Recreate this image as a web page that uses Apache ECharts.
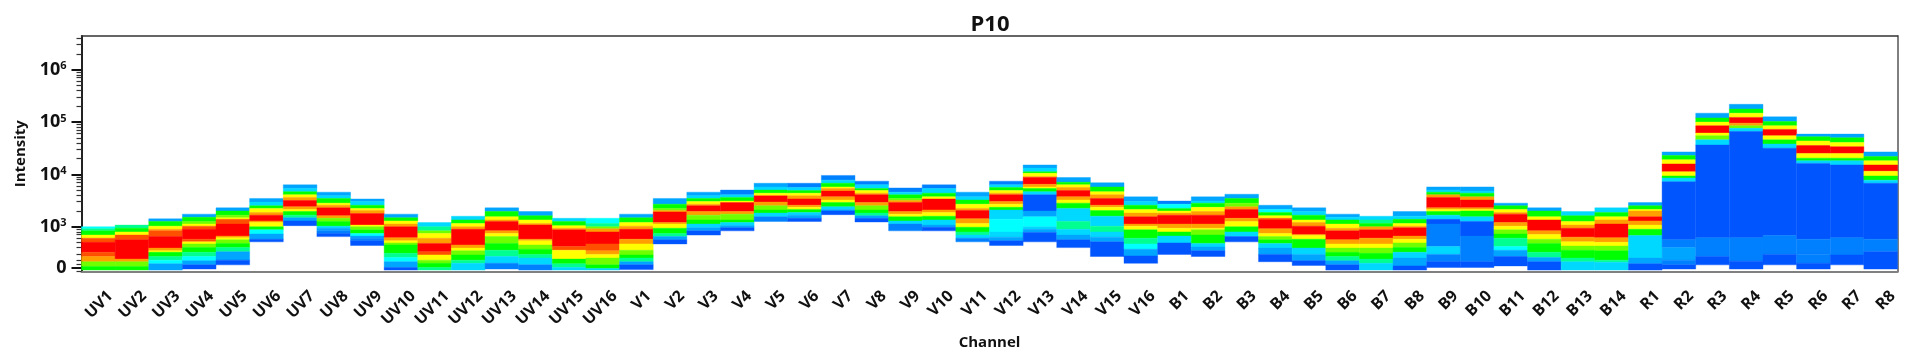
<!DOCTYPE html>
<html><head><meta charset="utf-8">
<style>html,body{margin:0;padding:0;background:#fff}#c{width:1929px;height:361px;filter:blur(0.6px)}</style>
<script src="https://cdn.jsdelivr.net/npm/echarts@6/dist/echarts.min.js"></script>
</head><body><div id="c"></div>
<script>
// Density colour levels, low to high
const levelColors=['#0055ff','#0080ff','#00a5ff','#00d8ff','#00ffff','#00ff90','#00ff00','#70ff00','#ffff00','#ffa000','#ff5000','#ff0000'];
const channels=['UV1','UV2','UV3','UV4','UV5','UV6','UV7','UV8','UV9','UV10','UV11','UV12','UV13','UV14','UV15','UV16','V1','V2','V3','V4','V5','V6','V7','V8','V9','V10','V11','V12','V13','V14','V15','V16','B1','B2','B3','B4','B5','B6','B7','B8','B9','B10','B11','B12','B13','B14','R1','R2','R3','R4','R5','R6','R7','R8'];
// Each channel: decade position of a band's upper edge, then its density level, ... ending with the lowest edge
const UV1=[3.00,4,2.96,5,2.92,6,2.84,8,2.78,10,2.70,11,2.51,10,2.43,9,2.33,7,2.24,6,2.17];
const UV2=[3.03,5,2.97,6,2.90,8,2.84,10,2.75,11,2.38,9,2.33,7,2.24,6,2.17];
const UV3=[3.15,2,3.10,6,3.01,8,2.95,9,2.92,10,2.81,11,2.59,9,2.54,8,2.51,6,2.43,5,2.36,4,2.29,2,2.17];
const UV4=[3.24,2,3.18,6,3.10,7,3.05,8,3.01,10,2.95,11,2.76,10,2.71,8,2.67,7,2.60,6,2.51,5,2.43,4,2.35,2,2.27,0,2.19];
const UV5=[3.36,2,3.30,6,3.22,7,3.17,8,3.14,10,3.05,11,2.82,9,2.79,8,2.75,7,2.68,6,2.60,5,2.52,2,2.36,0,2.27];
const UV6=[3.54,2,3.47,3,3.40,6,3.35,8,3.27,9,3.22,11,3.11,9,3.08,8,3.00,6,2.94,4,2.86,2,2.76,0,2.71];
const UV7=[3.80,2,3.73,3,3.67,6,3.61,8,3.56,9,3.50,11,3.38,9,3.33,8,3.29,6,3.22,5,3.17,2,3.11,0,3.02];
const UV8=[3.66,2,3.59,3,3.54,6,3.45,8,3.41,9,3.36,11,3.21,9,3.16,7,3.10,6,3.01,3,2.97,2,2.92,1,2.87,0,2.81];
const UV9=[3.53,2,3.48,3,3.41,6,3.35,8,3.31,9,3.25,11,3.03,8,3.00,7,2.94,6,2.87,4,2.82,2,2.78,1,2.73,0,2.64];
const UV10=[3.24,2,3.17,6,3.11,8,3.05,9,3.00,11,2.79,9,2.73,8,2.69,7,2.65,6,2.49,5,2.41,4,2.33,2,2.22,0,2.17];
const UV11=[3.08,3,3.00,5,2.92,7,2.87,8,2.78,9,2.68,11,2.52,10,2.46,8,2.36,7,2.30,6,2.22,5,2.17];
const UV12=[3.20,3,3.13,6,3.06,8,3.00,9,2.95,11,2.65,9,2.59,8,2.54,7,2.46,6,2.36,5,2.30,3,2.17];
const UV13=[3.36,2,3.29,6,3.19,8,3.13,9,3.10,11,2.92,9,2.87,8,2.81,7,2.68,6,2.55,5,2.43,3,2.30,1,2.19];
const UV14=[3.29,2,3.21,6,3.13,8,3.06,9,3.03,11,2.76,9,2.73,8,2.65,7,2.57,6,2.47,5,2.40,3,2.27,1,2.17];
const UV15=[3.16,3,3.10,6,3.02,8,2.97,9,2.94,11,2.62,10,2.55,8,2.38,6,2.29,5,2.22,3,2.17];
const UV16=[3.16,4,3.06,5,3.00,7,2.96,9,2.90,11,2.67,10,2.54,9,2.47,8,2.40,7,2.27,6,2.20,3,2.17];
const V1=[3.24,2,3.17,6,3.08,8,3.01,9,2.95,11,2.76,9,2.67,8,2.55,7,2.46,6,2.40,5,2.33,2,2.27,0,2.18];
const V2=[3.54,2,3.43,6,3.35,7,3.31,9,3.28,11,3.08,9,3.05,8,2.97,6,2.87,5,2.81,2,2.75,0,2.67];
const V3=[3.66,2,3.59,3,3.54,6,3.48,8,3.43,9,3.40,11,3.29,9,3.22,7,3.13,6,3.05,3,2.98,2,2.92,0,2.84];
const V4=[3.70,1,3.61,3,3.56,6,3.49,8,3.46,11,3.29,9,3.24,7,3.13,6,3.08,3,3.02,2,2.98,0,2.92];
const V5=[3.83,2,3.76,3,3.70,6,3.64,8,3.59,11,3.47,9,3.40,7,3.32,6,3.26,3,3.19,1,3.10];
const V6=[3.83,1,3.75,3,3.69,6,3.64,8,3.59,9,3.53,11,3.41,9,3.37,8,3.33,6,3.27,3,3.22,2,3.16,0,3.10];
const V7=[3.98,1,3.89,3,3.83,6,3.76,8,3.73,9,3.68,11,3.57,9,3.51,8,3.46,6,3.38,3,3.33,2,3.30,0,3.23];
const V8=[3.87,1,3.80,3,3.73,6,3.69,8,3.64,9,3.61,11,3.46,9,3.40,7,3.32,6,3.26,5,3.21,2,3.16,0,3.09];
const V9=[3.74,1,3.66,3,3.61,6,3.54,7,3.50,9,3.46,11,3.29,9,3.24,8,3.19,6,3.11,3,3.05,1,2.92];
const V10=[3.80,1,3.73,3,3.64,6,3.57,8,3.53,11,3.32,9,3.27,8,3.20,6,3.13,3,3.03,2,2.99,0,2.92];
const V11=[3.66,2,3.57,3,3.51,6,3.43,8,3.35,9,3.31,11,3.15,9,3.06,8,2.99,6,2.90,5,2.84,3,2.78,1,2.71];
const V12=[3.87,1,3.80,3,3.75,6,3.69,8,3.64,9,3.61,11,3.48,9,3.43,8,3.37,6,3.32,3,3.14,4,2.90,3,2.80,2,2.73,0,2.64];
const V13=[4.18,2,4.12,3,4.05,6,4.02,8,3.96,9,3.94,11,3.81,9,3.76,8,3.73,6,3.67,3,3.61,0,3.30,2,3.19,4,3.00,3,2.95,2,2.89,0,2.71];
const V14=[3.94,2,3.85,6,3.80,8,3.75,9,3.69,11,3.57,9,3.51,8,3.45,6,3.35,3,3.10,5,2.95,3,2.84,2,2.75,0,2.60];
const V15=[3.84,2,3.76,6,3.67,8,3.61,9,3.54,11,3.41,9,3.37,8,3.31,6,3.20,3,3.01,5,2.90,3,2.80,2,2.71,0,2.43];
const V16=[3.57,2,3.48,3,3.41,6,3.33,8,3.26,9,3.19,11,3.05,9,3.01,8,2.94,6,2.78,5,2.67,4,2.57,2,2.44,0,2.30];
const B1=[3.49,1,3.43,4,3.35,6,3.30,8,3.26,9,3.22,11,3.05,9,2.97,8,2.90,6,2.82,3,2.69,0,2.47];
const B2=[3.57,2,3.49,3,3.45,6,3.37,8,3.29,9,3.22,11,3.05,9,2.97,8,2.94,7,2.84,6,2.68,3,2.61,2,2.54,0,2.43];
const B3=[3.62,2,3.54,6,3.45,7,3.38,9,3.33,11,3.16,9,3.10,8,3.00,6,2.90,3,2.81,0,2.71];
const B4=[3.41,2,3.33,4,3.27,6,3.21,8,3.16,10,3.13,11,2.96,9,2.87,8,2.81,7,2.75,6,2.68,3,2.59,2,2.47,0,2.33];
const B5=[3.36,2,3.29,3,3.22,6,3.13,8,3.08,9,3.01,11,2.85,9,2.83,8,2.76,6,2.59,3,2.47,2,2.35,0,2.26];
const B6=[3.24,2,3.18,3,3.13,6,3.05,8,2.97,9,2.92,11,2.75,9,2.67,8,2.59,7,2.51,6,2.43,5,2.35,2,2.27,0,2.17];
const B7=[3.20,3,3.13,5,3.06,6,3.00,9,2.94,11,2.78,9,2.67,8,2.59,7,2.49,6,2.38,5,2.30,3,2.17];
const B8=[3.29,2,3.20,3,3.14,6,3.06,8,3.01,9,2.98,11,2.82,9,2.76,8,2.69,7,2.60,6,2.51,3,2.40,2,2.25,0,2.17];
const B9=[3.76,2,3.70,3,3.66,6,3.61,9,3.56,11,3.36,9,3.33,8,3.29,6,3.22,3,3.14,0,3.05,1,2.62,3,2.47,1,2.33,0,2.22];
const B10=[3.76,2,3.68,3,3.64,6,3.57,9,3.51,11,3.36,9,3.33,8,3.30,6,3.19,3,3.10,0,2.82,1,2.33,0,2.22];
const B11=[3.45,2,3.40,6,3.33,8,3.27,9,3.24,11,3.08,9,3.01,8,2.94,7,2.86,6,2.78,5,2.62,4,2.55,2,2.43,0,2.25];
const B12=[3.36,2,3.30,6,3.19,8,3.13,11,2.92,9,2.85,8,2.76,7,2.68,6,2.51,5,2.41,2,2.33,0,2.17];
const B13=[3.29,3,3.21,6,3.10,8,3.03,9,2.97,11,2.80,9,2.71,8,2.63,7,2.55,6,2.40,5,2.33,3,2.17];
const B14=[3.36,3,3.27,6,3.19,8,3.13,9,3.05,11,2.79,9,2.70,8,2.63,7,2.54,6,2.36,5,2.32,3,2.17];
const R1=[3.46,2,3.40,6,3.33,8,3.30,9,3.19,11,3.11,9,3.03,8,2.95,6,2.83,3,2.40,2,2.29,0,2.17];
const R2=[4.43,2,4.36,6,4.28,8,4.20,11,4.05,8,3.97,6,3.93,3,3.86,0,2.75,1,2.60,2,2.36,1,2.27,0,2.19];
const R3=[5.17,2,5.08,6,5.00,8,4.93,11,4.79,8,4.74,7,4.66,3,4.56,0,2.79,1,2.43,0,2.27];
const R4=[5.34,2,5.25,6,5.17,8,5.09,11,4.98,9,4.93,7,4.88,3,4.82,0,2.79,1,2.34,0,2.19];
const R5=[5.10,2,5.01,6,4.93,8,4.86,11,4.74,8,4.66,6,4.58,3,4.50,0,2.83,1,2.47,0,2.27];
const R6=[4.77,2,4.72,6,4.64,8,4.55,11,4.40,8,4.31,6,4.26,3,4.21,0,2.76,1,2.47,1,2.30,0,2.19];
const R7=[4.77,2,4.70,6,4.61,8,4.53,11,4.40,8,4.31,6,4.26,3,4.18,0,2.79,1,2.46,0,2.27];
const R8=[4.43,2,4.34,6,4.26,8,4.18,11,4.06,8,3.97,6,3.89,3,3.83,0,2.76,1,2.52,0,2.19];
const channelBands=[UV1,UV2,UV3,UV4,UV5,UV6,UV7,UV8,UV9,UV10,UV11,UV12,UV13,UV14,UV15,UV16,V1,V2,V3,V4,V5,V6,V7,V8,V9,V10,V11,V12,V13,V14,V15,V16,B1,B2,B3,B4,B5,B6,B7,B8,B9,B10,B11,B12,B13,B14,R1,R2,R3,R4,R5,R6,R7,R8];

const yMin=2.143, yMax=6.646;
const majorTicks=[2.21,3,4,5,6];
const majorLabels={2.21:'0',3:'10{s|3}',4:'10{s|4}',5:'10{s|5}',6:'10{s|6}'};
const minorTicks=[2.15,2.29,2.36,2.48,2.60,2.70,2.78,2.85,2.90,2.95,
 3.30,3.48,3.60,3.70,3.78,3.85,3.90,3.95,
 4.30,4.48,4.60,4.70,4.78,4.85,4.90,4.95,
 5.30,5.48,5.60,5.70,5.78,5.85,5.90,5.95,
 6.30,6.48,6.60];

const rows=[];
channelBands.forEach((b,i)=>{
  for(let k=0;k+2<b.length;k+=2) rows.push([i,b[k+2],b[k],b[k+1]]);
});
const fontFam='"Open Sans","Noto Sans",sans-serif';
const ink='#111';
const chart=echarts.init(document.getElementById('c'),null,{renderer:'canvas'});
chart.setOption({
  animation:false,
  backgroundColor:'#fff',
  title:{text:'P10',left:985,top:9,textAlign:'center',textStyle:{fontFamily:fontFam,fontWeight:700,fontSize:22,color:ink}},
  grid:{left:81.5,top:36,width:1816,height:235.5,containLabel:false},
  xAxis:[{type:'category',data:channels,position:'bottom',
    name:'Channel',nameLocation:'middle',nameGap:62,
    nameTextStyle:{fontFamily:fontFam,fontWeight:700,fontSize:15,color:ink},
    axisLine:{lineStyle:{color:'#808080',width:2}},
    axisTick:{alignWithLabel:true,length:9,lineStyle:{color:'#111',width:2}},
    axisLabel:{interval:0,rotate:45,margin:34,padding:[0,-17,0,0],fontFamily:fontFam,fontWeight:700,fontSize:16,color:ink}},
   {type:'category',data:channels,position:'top',axisLine:{lineStyle:{color:'#333',width:1.5}},axisTick:{show:false},axisLabel:{show:false}}],
  yAxis:[{type:'value',min:yMin,max:yMax,position:'left',name:'Intensity',nameLocation:'middle',nameGap:53,
    nameTextStyle:{fontFamily:fontFam,fontWeight:700,fontSize:15,color:ink},
    splitLine:{show:false},
    axisLine:{show:true,lineStyle:{color:'#222',width:2}},
    axisTick:{show:true,length:10,customValues:majorTicks,lineStyle:{color:'#111',width:2}},
    axisLabel:{customValues:majorTicks,margin:15,formatter:v=>majorLabels[v]||'',
      fontFamily:fontFam,fontWeight:700,fontSize:18,color:ink,
      rich:{s:{fontFamily:fontFam,fontWeight:700,fontSize:11,color:ink,verticalAlign:'top',padding:[0,0,6,0]}}}},
   {type:'value',min:yMin,max:yMax,position:'left',splitLine:{show:false},axisLine:{show:false},
    axisTick:{show:true,length:5,customValues:minorTicks,lineStyle:{color:'#333',width:1.2}},
    axisLabel:{show:false}},
   {type:'value',min:yMin,max:yMax,position:'right',splitLine:{show:false},axisLine:{show:true,lineStyle:{color:'#808080',width:2}},
    axisTick:{show:false},axisLabel:{show:false}}],
  series:[{type:'custom',xAxisIndex:0,yAxisIndex:0,clip:true,
    encode:{x:0,y:[1,2]},
    data:rows,
    renderItem:(p,api)=>{
      const i=api.value(0);
      const a=api.coord([i,api.value(2)]), b=api.coord([i,api.value(1)]);
      const w=api.size([1,0])[0];
      return {type:'rect',shape:{x:a[0]-w/2,y:a[1],width:w,height:b[1]-a[1]},
        style:{fill:levelColors[api.value(3)],stroke:levelColors[api.value(3)],lineWidth:0.4}};
    }}]
});
</script></body></html>
